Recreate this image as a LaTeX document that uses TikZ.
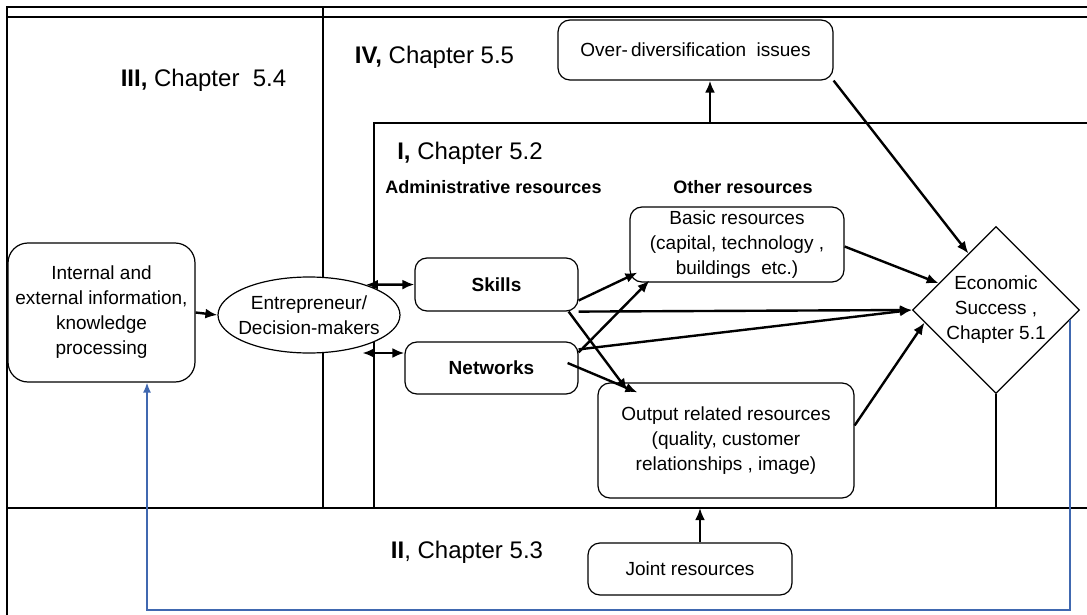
\documentclass[tikz,border=0pt]{standalone}
\usepackage{fontspec}
\setmainfont{Liberation Sans}
\usetikzlibrary{arrows.meta,positioning,shapes.geometric,calc}
\definecolor{feedblue}{RGB}{64,104,176}
\tikzset{
    resbox/.style={rectangle,draw,fill=white,rounded corners=6pt,align=center,inner sep=1pt,line width=0.6pt,font=\fontsize{9.5}{12.5}\selectfont},
    infobox/.style={resbox,rounded corners=10pt},
    skillbox/.style={resbox,font=\bfseries\fontsize{9.5}{11}\selectfont},
    entnode/.style={ellipse,draw,fill=white,align=center,inner xsep=-3.5pt,inner ysep=0pt,line width=0.6pt,font=\fontsize{9.5}{12.5}\selectfont},
    succnode/.style={diamond,draw,fill=white,align=center,inner sep=0pt,line width=0.6pt,minimum width=82.5pt,minimum height=82.5pt,font=\fontsize{9.5}{12.5}\selectfont},
    chaplabel/.style={inner sep=1pt,font=\fontsize{12}{14}\selectfont},
    headlabel/.style={inner sep=1pt,font=\bfseries\fontsize{9}{11}\selectfont},
    frameline/.style={line width=0.9pt},
    thinframe/.style={line width=0.6pt},
    resline/.style={-{Latex[length=6pt,width=5pt]},line width=1.2pt},
    resboth/.style={{Latex[length=6pt,width=5pt]}-{Latex[length=6pt,width=5pt]},line width=1.2pt},
    feedline/.style={-{Latex[length=5pt,width=4pt]},line width=0.8pt,draw=feedblue}
}

\begin{document}
\begin{tikzpicture}[x=0.5pt,y=-0.5pt]
        \useasboundingbox (0,0) rectangle (1087,615);
        % frames of the chapters
        \draw[frameline] (7,615) -- (7,7) -- (1087,7);
        \draw[frameline] (7,17) -- (1087,17);
        \draw[frameline] (323,7) -- (323,508);
        \draw[frameline] (7,508) -- (1087,508);
        \draw[thinframe] (374,508) -- (374,123) -- (1087,123);
        \coordinate (lowrule) at (7,508);
        \coordinate (ibtop) at (710,123);
        \coordinate (jtop) at (700,508);
        \node[chaplabel] (chapiii) at (203.5,80) {\textbf{III,} Chapter\ \ 5.4};
        \node[chaplabel] (chapiv) at (434.5,57) {\textbf{IV,} Chapter 5.5};
        \node[chaplabel] (chapi) at (470,153) {\textbf{I,} Chapter 5.2};
        \node[chaplabel] (chapii) at (467,552) {\textbf{II}, Chapter 5.3};
        \node[headlabel] (admin) at (493.5,187) {Administrative resources};
        \node[headlabel] (other) at (743,187) {Other resources};
        % nodes
        \node[infobox,minimum width=93.5pt,minimum height=69.5pt] (info) at (101.5,312.5) {Internal and\\external information,\\knowledge\\processing};
        \node[entnode,minimum width=91pt,minimum height=38pt] (ent) at (309,315) {Entrepreneur/\\Decision-makers};
        \node[skillbox,minimum width=81.5pt,minimum height=26.5pt] (skills) at (496.5,284.5) {Skills};
        \node[skillbox,minimum width=86.5pt,minimum height=26pt] (nets) at (491.5,368) {Networks};
        \node[resbox,minimum width=107pt,minimum height=37.5pt] (basic) at (737,244.5) {Basic resources\\(capital, technology ,\\buildings\ \ etc.)};
        \node[resbox,minimum width=128pt,minimum height=57.5pt] (output) at (726,440.5) {Output related resources\\(quality, customer\\relationships , image)};
        \node[resbox,minimum width=137.5pt,minimum height=30pt] (overdiv) at (695.5,50) {Over-\,diversification\ \ issues};
        \node[resbox,minimum width=102pt,minimum height=26pt] (joint) at (690,569) {Joint resources};
        \node[succnode] (econ) at (996,310) {Economic\\Success ,\\Chapter 5.1};
        \coordinate (fbstart) at ($(econ.east)!0.12!(econ.south)$);
        \coordinate (entlow) at ($(nets.west)+(-42,-15)$);
        % connectors
        \draw[resline] (info.east) -- (ent.west);
        \draw[resboth] (ent.28) -- (skills.west);
        \draw[resboth] (entlow) -- ($(nets.west)+(0,-15)$);
        \draw[resline] ($(skills.east)+(0,16)$) -- ($(basic.south west)+(8,-10)$);
        \draw[resline] ($(nets.north east)+(0,11)$) -- ($(basic.south west)+(20,-2)$);
        \draw[resline] ($(skills.south east)+(-10,0)$) -- ($(output.north west)+(30,8)$);
        \draw[resline] ($(nets.east)+(-11,-5)$) -- ($(output.north west)+(40,10)$);
        \draw[resline] (skills.south east) -- (econ.west);
        \draw[resline] ($(nets.north east)+(0,8)$) -- (econ.west);
        \draw[resline] ($(basic.east)+(0,2)$) -- (econ.155);
        \draw[resline] ($(output.east)+(0,-15)$) -- (econ.190);
        \draw[resline] (overdiv.south east) -- (econ.116);
        \draw[resline] (ibtop) -- (ibtop |- overdiv.south);
        \draw[resline] (jtop |- joint.north) -- (jtop);
        \draw[thinframe] (econ.south) -- (econ.south |- lowrule);
        \draw[feedline] (fbstart) -- ++(0,290) -| ([xshift=22.75pt]info.south);
    \end{tikzpicture}
\end{document}
